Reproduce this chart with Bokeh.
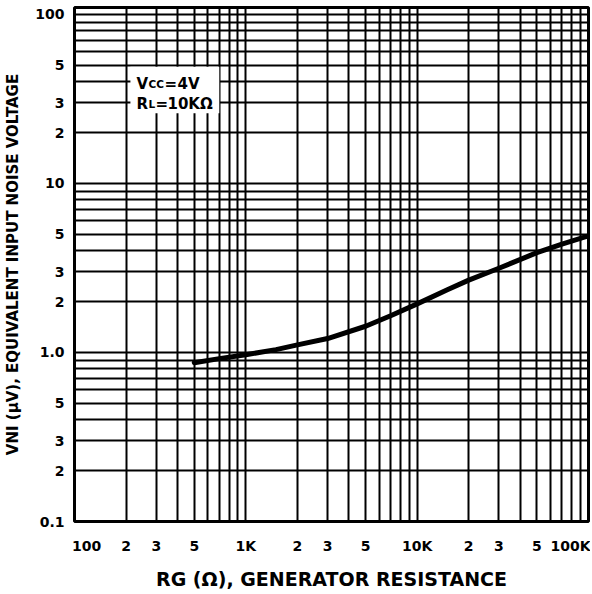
from bokeh.plotting import figure
from bokeh.models import FixedTicker, Label, BoxAnnotation, Range1d
from bokeh.embed import file_html
from bokeh.resources import INLINE

# ---- data ----
rg_ohm = [500, 700, 1000, 1500, 2000, 3000, 5000, 7000, 10000, 15000,
          20000, 30000, 50000, 70000, 100000]
vni_uv = [0.87, 0.92, 0.97, 1.04, 1.11, 1.21, 1.43, 1.65, 1.94, 2.35,
          2.68, 3.15, 3.9, 4.38, 4.9]

x_ticks = [100, 200, 300, 500, 1000, 2000, 3000, 5000, 10000, 20000, 30000, 50000, 100000]
x_tick_labels = ["100", "2", "3", "5", "1K", "2", "3", "5", "10K", "2", "3", "5", "100K"]
y_ticks = [0.1, 0.2, 0.3, 0.5, 1, 2, 3, 5, 10, 20, 30, 50, 100]
y_tick_labels = ["0.1", "2", "3", "5", "1.0", "2", "3", "5", "10", "2", "3", "5", "100"]

x_decades = [100, 1000, 10000]
y_decades = [0.1, 1, 10]
grid_steps = [1, 2, 3, 4, 5, 6, 7, 8, 9]

x_title = "RG (\u03a9), GENERATOR RESISTANCE"
y_title = "VNI (\u03bcV), EQUIVALENT INPUT NOISE VOLTAGE"
note_line1 = ["V", "CC", "=", "4V"]
note_line2 = ["R", "L", "=", "10K\u03a9"]

FONT = "DejaVu Sans"
NB = "\u00a0"

x_grid = [d * k for d in x_decades for k in grid_steps] + [x_decades[-1] * 10]
y_grid = [d * k for d in y_decades for k in grid_steps] + [y_decades[-1] * 10]

p = figure(width=590, height=592, x_axis_type="log", y_axis_type="log",
           x_range=Range1d(100, 100000), y_range=Range1d(0.1, 110),
           output_backend="svg", toolbar_location=None,
           min_border_left=74, min_border_right=2, min_border_top=7, min_border_bottom=68)

p.background_fill_color = "white"
p.border_fill_color = "white"
p.outline_line_color = "black"
p.outline_line_width = 3
p.outline_line_alpha = 1

# grids
p.xgrid.ticker = FixedTicker(ticks=x_grid)
p.ygrid.ticker = FixedTicker(ticks=y_grid)
for g in (p.xgrid, p.ygrid):
    g.grid_line_color = "black"
    g.grid_line_width = 2
    g.grid_line_alpha = 1

# axes
xo = {t: l for t, l in zip(x_ticks, x_tick_labels)}
# first label sits to the right of the left edge, as in the reference
xo[x_ticks[0]] = NB * 5 + x_tick_labels[0]
p.xaxis.ticker = FixedTicker(ticks=x_ticks)
p.xaxis.major_label_overrides = xo
p.yaxis.ticker = FixedTicker(ticks=y_ticks)
p.yaxis.major_label_overrides = {t: l for t, l in zip(y_ticks, y_tick_labels)}
for ax in (p.xaxis, p.yaxis):
    ax.axis_line_color = None
    ax.major_tick_line_color = None
    ax.minor_tick_line_color = None
    ax.major_tick_out = 0
    ax.major_tick_in = 0
    ax.major_label_text_font = FONT
    ax.major_label_text_font_style = "bold"
    ax.major_label_text_font_size = "14px"
    ax.major_label_text_color = "black"
    ax.axis_label_text_font = FONT
    ax.axis_label_text_font_style = "bold"
    ax.axis_label_text_color = "black"
p.xaxis.major_label_standoff = 16
p.yaxis.major_label_standoff = 10
p.xaxis.axis_label = x_title
p.xaxis.axis_label_text_font_size = "19px"
p.xaxis.axis_label_standoff = 11
p.yaxis.axis_label = y_title
p.yaxis.axis_label_text_font_size = "15px"
p.yaxis.axis_label_standoff = 10

# white patch behind the conditions note
p.add_layout(BoxAnnotation(left=212, right=700, bottom=26, top=49,
                           fill_color="white", fill_alpha=1, line_alpha=0))

# curve
p.line(rg_ohm, vni_uv, line_width=5, line_color="black",
       line_cap="round", line_join="round")


def lab(text, xoff, yoff, size):
    p.add_layout(Label(x=x_ticks[0], y=y_ticks[0], x_offset=xoff, y_offset=yoff,
                       text=text, text_align="left",
                       text_baseline="alphabetic", text_font=FONT,
                       text_font_style="bold", text_font_size=f"{size}px",
                       text_color="black"))


# conditions note
lab(note_line1[0], 62, 438, 15)
lab(note_line1[1], 74, 438, 10.5)
lab(note_line1[2], 90, 438, 15)
lab(note_line1[3], 103, 438, 15)
lab(note_line2[0], 62, 418, 15)
lab(note_line2[1], 74, 418, 10.5)
lab(note_line2[2], 81, 418, 15)
lab(note_line2[3], 93, 418, 15)

open("out.html", "w").write(file_html(p, INLINE))
